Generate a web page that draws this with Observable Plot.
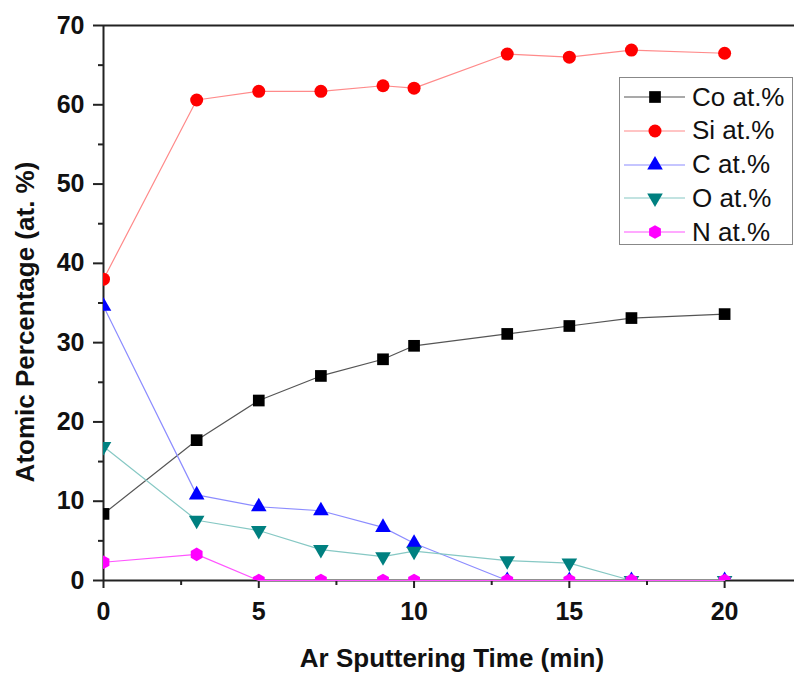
<!DOCTYPE html>
<html>
<head>
<meta charset="utf-8">
<script src="https://cdn.jsdelivr.net/npm/d3@7"></script>
<script src="https://cdn.jsdelivr.net/npm/@observablehq/plot@0.6"></script>
<style>
  body { margin: 0; background: #fff; }
  #wrap { position: relative; width: 794px; height: 674px; font-family: "Liberation Sans", Arial, sans-serif; }
  #legend { position: absolute; left: 619px; top: 77px; width: 172px; height: 166px; border: 1px solid #888; background: #fff; }
  .row { position: absolute; left: 0; height: 30px; display: flex; align-items: center; }
  .row svg { display: block; }
  .row span { font-size: 26px; color: #111; margin-left: 6px; white-space: nowrap; }
</style>
</head>
<body>
<div id="wrap"></div>
<script>
// ---- data ----
const time = [0, 3, 5, 7, 9, 10, 13, 15, 17, 20];
const co = [8.4, 17.7, 22.7, 25.8, 27.9, 29.6, 31.1, 32.1, 33.1, 33.6];
const si = [38.0, 60.6, 61.7, 61.7, 62.4, 62.1, 66.4, 66.0, 66.9, 66.5];
const cc = [34.6, 10.8, 9.3, 8.8, 6.7, 4.7, 0, 0, 0, 0];
const ox = [16.9, 7.6, 6.3, 3.9, 3.0, 3.7, 2.5, 2.2, 0, 0];
const nn = [2.3, 3.3, 0, 0, 0, 0, 0, 0, 0, 0];
const seriesNames = ["Co at.%", "Si at.%", "C at.%", "O at.%", "N at.%"];
const xTicks = [0, 5, 10, 15, 20];
const xMinor = [2.5, 7.5, 12.5, 17.5];
const yTicks = [0, 10, 20, 30, 40, 50, 60, 70];
const yMinor = [5, 15, 25, 35, 45, 55, 65];
const xLabel = "Ar Sputtering Time (min)";
const yLabel = "Atomic Percentage (at. %)";

// custom symbols
const triangleDown = {
  draw(context, size) {
    const sqrt3 = Math.sqrt(3);
    const y = -Math.sqrt(size / (sqrt3 * 3));
    context.moveTo(0, -y * 2);
    context.lineTo(-sqrt3 * y, y);
    context.lineTo(sqrt3 * y, y);
    context.closePath();
  }
};
const hexagon = {
  draw(context, size) {
    const R = Math.sqrt(size / (3 * Math.sqrt(3) / 2));
    for (let k = 0; k < 6; k++) {
      const a = Math.PI / 2 + k * Math.PI / 3;
      const px = R * Math.cos(a), py = R * Math.sin(a);
      if (k === 0) context.moveTo(px, py); else context.lineTo(px, py);
    }
    context.closePath();
  }
};

const values = [co, si, cc, ox, nn];
const styles = [
  { line: "#555555", fill: "#000000", symbol: d3.symbolSquare, r: 6.6 },
  { line: "#ff8a8a", fill: "#ff0000", symbol: d3.symbolCircle, r: 6.5 },
  { line: "#8c8cff", fill: "#0000ff", symbol: d3.symbolTriangle, r: 5.8 },
  { line: "#86c8c4", fill: "#008080", symbol: triangleDown, r: 5.8 },
  { line: "#ff55ff", fill: "#ff00ff", symbol: hexagon, r: 6.2 }
];
const series = seriesNames.map((name, j) => ({
  name, ...styles[j],
  rows: time.map((t, i) => ({ t, v: values[j][i] }))
}));

const font = "Liberation Sans, Arial, sans-serif";
const axisColor = "#222";

const marks = [
  Plot.ruleY([0], { stroke: axisColor, strokeWidth: 2 }),
  Plot.ruleY([70], { stroke: axisColor, strokeWidth: 2 }),
  Plot.ruleX([0], { stroke: axisColor, strokeWidth: 2 }),
  Plot.axisX(xTicks, { tickSize: 8, tickPadding: 14, fontSize: 25, fontWeight: "bold", stroke: axisColor, strokeWidth: 2, fill: "#111", label: null }),
  Plot.axisX(xMinor, { tickSize: 5, tickFormat: () => "", stroke: axisColor, strokeWidth: 2, label: null }),
  Plot.axisY(yTicks, { tickSize: 10, tickPadding: 9, fontSize: 25, fontWeight: "bold", stroke: axisColor, strokeWidth: 2, fill: "#111", label: null }),
  Plot.axisY(yMinor, { tickSize: 5, tickFormat: () => "", stroke: axisColor, strokeWidth: 2, label: null }),
  Plot.text([yLabel], { frameAnchor: "left", textAnchor: "middle", lineAnchor: "middle", rotate: -90, dx: -78, dy: 19, fontSize: 26, fontWeight: "bold", fill: "#111" }),
  Plot.text([xLabel], { frameAnchor: "bottom", textAnchor: "middle", lineAnchor: "middle", dx: 3, dy: 78, fontSize: 26, fontWeight: "bold", fill: "#111" })
];
for (const s of series) {
  marks.push(Plot.line(s.rows, { x: "t", y: "v", stroke: s.line, strokeWidth: 1.2 }));
}
for (const s of series) {
  marks.push(Plot.dot(s.rows, { x: "t", y: "v", symbol: s.symbol, r: s.r, fill: s.fill, stroke: "none", clip: true }));
}

const chart = Plot.plot({
  width: 794,
  height: 674,
  marginLeft: 103,
  marginRight: 0,
  marginTop: 25,
  marginBottom: 94,
  style: { fontFamily: font, background: "#fff", overflow: "visible" },
  x: { domain: [0, 22.25] },
  y: { domain: [0, 70] },
  marks
});
const wrap = document.getElementById("wrap");
wrap.appendChild(chart);

// legend
const legend = document.createElement("div");
legend.id = "legend";
series.forEach((s, j) => {
  const row = document.createElement("div");
  row.className = "row";
  row.style.top = (4 + j * 33.8) + "px";
  const svg = d3.create("svg").attr("width", 66).attr("height", 30);
  svg.append("line").attr("x1", 4).attr("x2", 65).attr("y1", 15).attr("y2", 15)
    .attr("stroke", s.line).attr("stroke-width", 1.2);
  svg.append("path").attr("transform", "translate(35,15)")
    .attr("d", d3.symbol(s.symbol, s.r * s.r * Math.PI)())
    .attr("fill", s.fill);
  row.appendChild(svg.node());
  const span = document.createElement("span");
  span.textContent = s.name;
  row.appendChild(span);
  legend.appendChild(row);
});
wrap.appendChild(legend);
</script>
</body>
</html>
